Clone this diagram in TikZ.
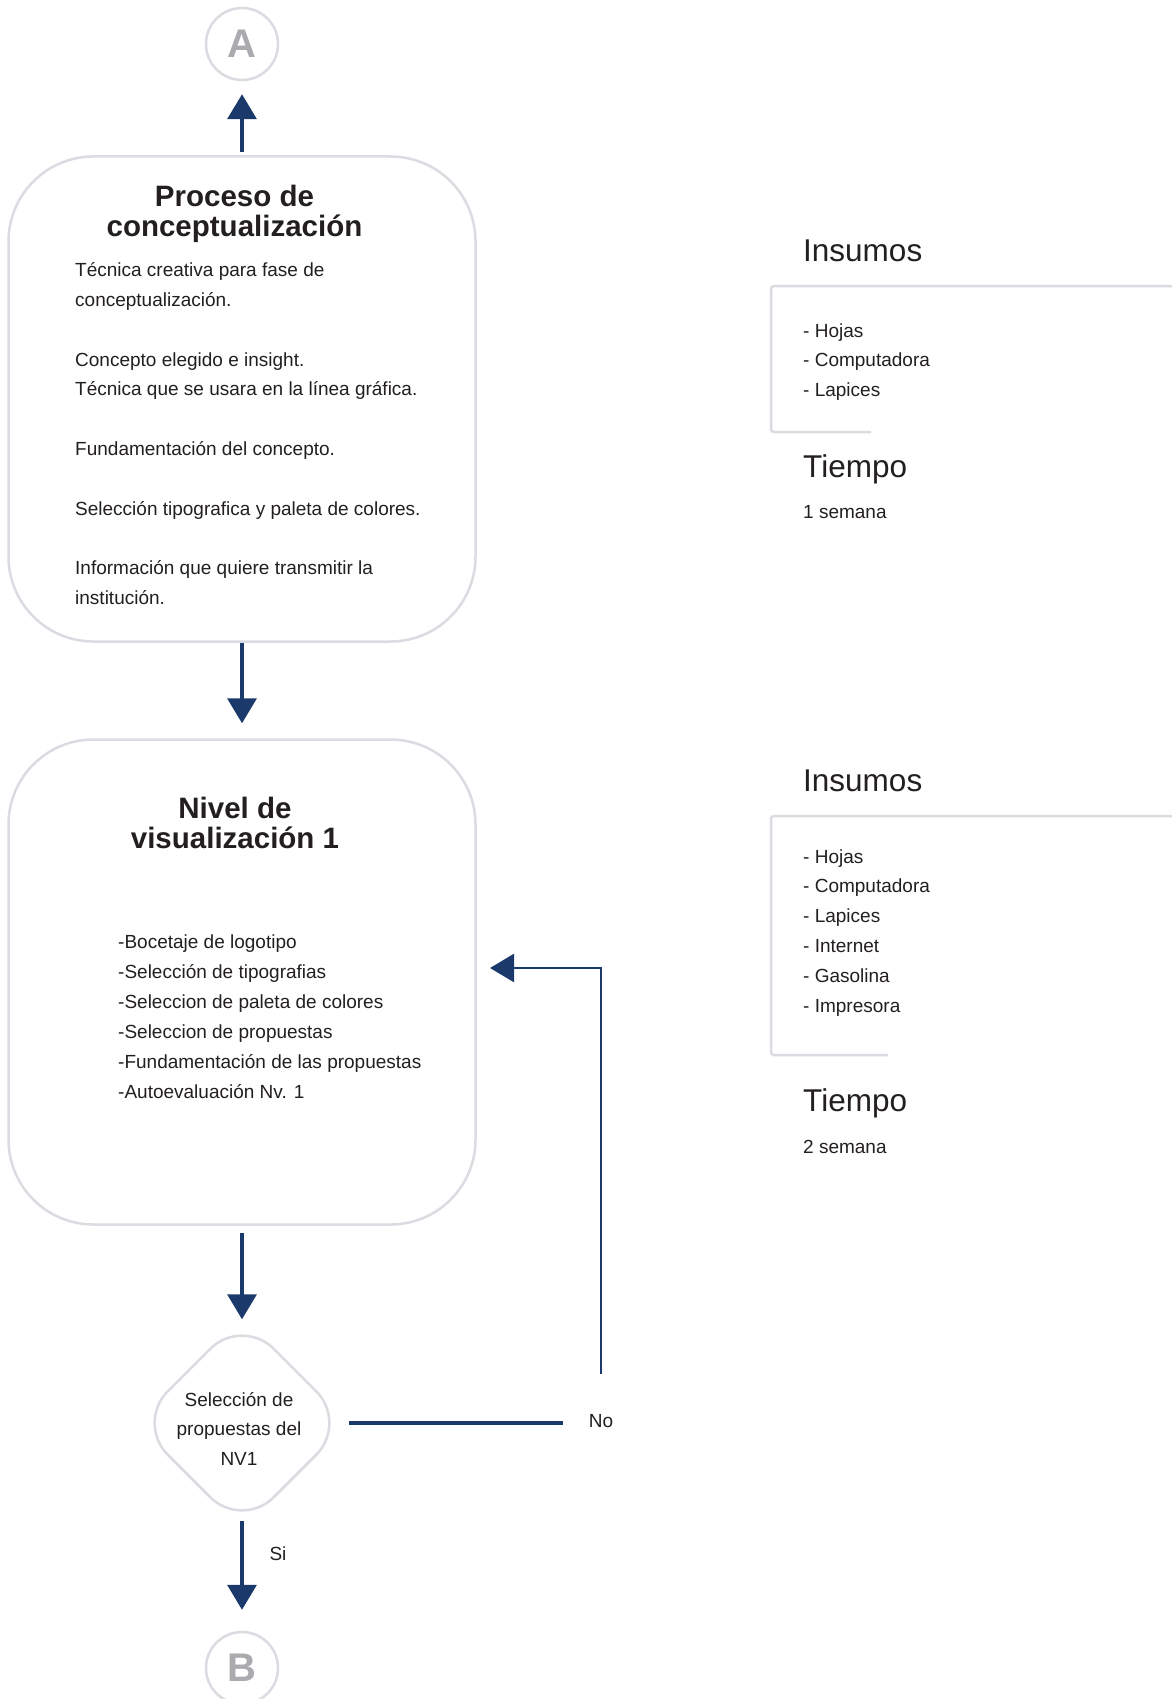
\documentclass[tikz,border=0pt]{standalone}
\usepackage{fontspec}
\setmainfont{Liberation Sans}
\usetikzlibrary{arrows.meta,shapes.geometric}
\definecolor{azul}{HTML}{1B3A6B}
\definecolor{borde}{HTML}{DBDBE2}
\definecolor{letra}{HTML}{231F20}
\definecolor{gris}{HTML}{ABABAF}
\newcommand{\lineas}[1]{\parbox[t]{420pt}{#1}}
\begin{document}
\begin{tikzpicture}[x=1pt,y=-1pt,
  caja/.style={draw=borde,line width=2.5pt,rounded corners=85pt,minimum width=467pt,minimum height=485pt,inner sep=0pt},
  enlace/.style={circle,draw=borde,line width=2.5pt,minimum size=72pt,inner sep=0pt,text=gris,font=\fontsize{40}{40}\selectfont\bfseries},
  decision/.style={diamond,aspect=1,draw=borde,line width=2.5pt,minimum width=213pt,minimum height=213pt,inner sep=0pt,rounded corners=45pt},
  flecha/.style={azul,line width=3.5pt,-{Triangle[length=25pt,width=29pt]}},
  retorno/.style={azul,line width=2.5pt,-{Triangle[length=24pt,width=28pt]}},
  texto/.style={inner sep=0pt,anchor=base west,text=letra,font=\fontsize{19}{29.8}\selectfont},
  titulo/.style={inner sep=0pt,anchor=base,text=letra,font=\fontsize{29.5}{30}\selectfont\bfseries},
  cabecera/.style={inner sep=0pt,anchor=base west,text=letra,font=\fontsize{31.5}{36}\selectfont},
  marco/.style={draw=borde,line width=2.5pt,rounded corners=3pt}]
\path[use as bounding box,fill=white] (0,0) rectangle (1171,1699);

\node[enlace] (A) at (242,44) {A};
\node[caja] (proc) at (242,399) {};
\node[titulo] (tproc) at (234.5,207) {\lineas{\centering Proceso de\\conceptualización}};
\node[texto] (cproc) at (75,276.7) {\lineas{Técnica creativa para fase de\\conceptualización.\\[29.8pt]Concepto elegido e insight.\\Técnica que se usara en la línea gráfica.\\[29.8pt]Fundamentación del concepto.\\[29.8pt]Selección tipografica y paleta de colores.\\[29.8pt]Información que quiere transmitir la\\institución.}};

\node[caja] (nv) at (242,982) {};
\node[titulo] (tnv) at (235,818) {\lineas{\centering Nivel de\\visualización 1}};
\node[texto,font=\fontsize{19}{30}\selectfont] (cnv) at (118,948) {\lineas{-Bocetaje de logotipo\\-Selección de tipografias\\-Seleccion de paleta de colores\\-Seleccion de propuestas\\-Fundamentación de las propuestas\\-Autoevaluación Nv. 1}};

\node[decision] (sel) at (242,1423) {};
\node[texto,anchor=base] (tsel) at (239,1406) {\lineas{\centering Selección de\\propuestas del\\NV1}};
\node[texto,anchor=base] (no) at (601,1427) {No};
\node[texto,anchor=base] (si) at (278,1560) {Si};
\node[enlace] (B) at (242,1668) {B};
\coordinate (ret) at (490,968);

\draw[flecha,shorten <=3pt,shorten >=13pt] (proc.north) -- (A.south);
\draw[flecha,shorten >=15pt] (proc.south) -- (nv.north);
\draw[flecha,shorten <=7pt,shorten >=-4pt] (nv.south) -- (sel.north);
\draw[flecha,shorten <=-10pt,shorten >=21pt] (sel.south) -- (B.north);
\draw[azul,line width=3.5pt,shorten <=-1pt,shorten >=26pt] (sel.east) -- (sel.east -| no.west);
\draw[retorno,shorten <=40pt] (no.north) |- (ret);

\node[cabecera] (ins1) at (803,261) {Insumos};
\draw[marco] (871,432) -- (771,432) -- (771,286) -- (1175,286);
\node[texto] (lista1) at (803,337) {\lineas{- Hojas\\- Computadora\\- Lapices}};
\node[cabecera] (tie1) at (803,477) {Tiempo};
\node[texto] (sem1) at (803,518) {1 semana};

\node[cabecera] (ins2) at (803,791) {Insumos};
\draw[marco] (888,1055) -- (771,1055) -- (771,816) -- (1175,816);
\node[texto] (lista2) at (803,863) {\lineas{- Hojas\\- Computadora\\- Lapices\\- Internet\\- Gasolina\\- Impresora}};
\node[cabecera] (tie2) at (803,1111) {Tiempo};
\node[texto] (sem2) at (803,1153) {2 semana};
\end{tikzpicture}
\end{document}
